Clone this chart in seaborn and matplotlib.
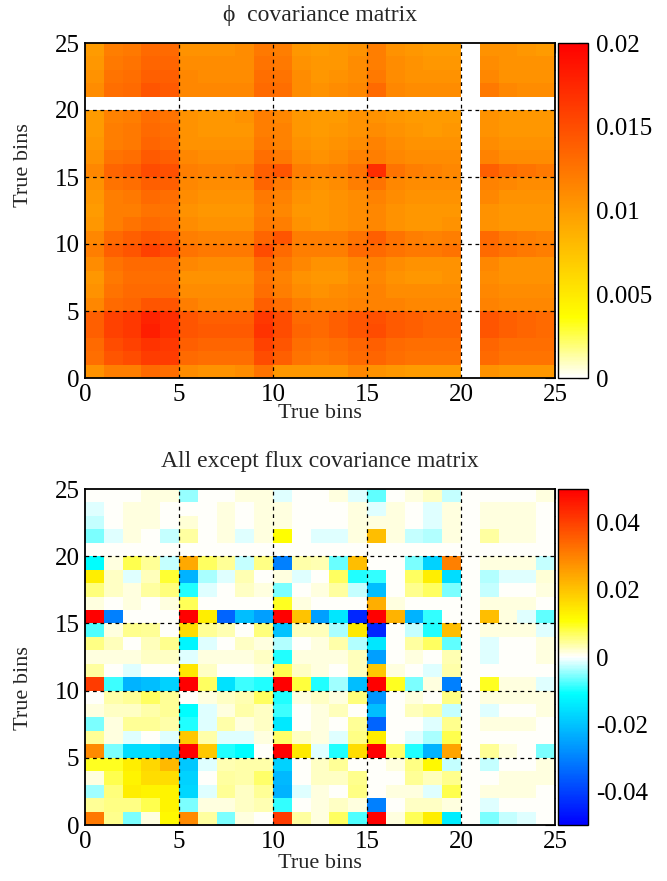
import numpy as np
import pandas as pd
import matplotlib
matplotlib.use("Agg")
import matplotlib.pyplot as plt
import seaborn as sns
from matplotlib.colors import LinearSegmentedColormap

sns.set_style("white")
plt.rcParams['font.family'] = ['Liberation Serif', 'DejaVu Serif']

bins = list(range(25))
tick_vals = [0, 5, 10, 15, 20, 25]
tick_labels = ["0", "5", "10", "15", "20", "25"]
grid_lines = [5, 10, 15, 20]

# phi covariance matrix, units of 1e-4 (rows = y bin 0..24, cols = x bin 0..24)
phi_cov_e4 = [
    [106,119,119,132,129,110,106,106,110,126,103,103,103,103,113,106,103,100,100,100,0,106,103,103,103],
    [129,145,151,161,161,132,129,129,129,151,139,126,122,126,132,135,129,126,126,126,0,132,126,126,126],
    [132,151,158,167,164,139,135,135,135,158,145,129,126,129,135,139,132,129,129,129,0,135,129,129,129],
    [139,158,164,180,171,145,142,142,142,167,151,135,132,139,145,151,142,139,135,135,0,145,139,135,132],
    [139,158,164,177,171,145,139,139,139,164,151,132,132,139,145,148,142,139,135,135,0,145,139,135,132],
    [113,132,135,145,145,119,113,113,113,139,129,119,113,113,116,116,116,113,113,113,0,116,113,113,113],
    [106,126,132,132,132,110,110,110,110,129,119,110,106,110,113,116,110,110,110,110,0,113,110,110,110],
    [103,122,129,129,129,106,106,106,106,126,116,106,103,103,110,113,106,103,103,106,0,110,106,106,106],
    [110,126,132,132,132,113,110,110,110,132,122,113,106,106,113,116,110,106,106,106,0,113,106,106,106],
    [119,139,145,158,151,126,122,122,122,151,132,119,119,119,132,132,126,122,122,126,0,132,126,122,119],
    [113,132,139,145,142,119,116,116,116,135,145,119,119,119,126,139,126,119,116,119,0,132,122,119,116],
    [103,119,126,132,129,110,106,106,106,122,119,106,103,106,110,113,106,103,103,106,0,106,103,103,103],
    [100,119,119,126,126,106,103,103,103,119,113,103,103,106,110,113,106,103,103,103,0,106,103,103,103],
    [103,119,122,132,129,110,106,106,106,122,116,106,103,106,110,116,110,106,106,106,0,113,106,106,106],
    [106,126,129,139,139,113,110,110,110,135,122,110,106,110,119,126,113,110,110,110,0,116,113,110,110],
    [113,135,139,151,148,119,116,116,119,139,145,119,116,119,126,171,126,119,116,113,0,139,129,126,122],
    [106,126,129,142,139,113,110,110,110,129,122,110,106,110,116,119,113,110,110,110,0,116,110,110,110],
    [103,119,122,135,132,106,106,106,106,122,116,106,103,106,110,116,110,106,106,106,0,110,106,106,106],
    [100,119,122,132,129,106,103,103,103,119,116,103,100,103,106,110,106,103,100,103,0,106,103,103,103],
    [100,116,119,129,126,106,103,103,106,119,113,103,100,100,106,106,103,100,100,100,0,106,103,103,103],
    [0,0,0,0,0,0,0,0,0,0,0,0,0,0,0,0,0,0,0,0,0,0,0,0,0],
    [110,129,132,145,142,113,113,113,113,132,129,110,106,110,113,132,113,110,110,110,0,122,113,110,110],
    [106,126,129,139,139,113,110,110,110,129,126,110,103,106,110,122,110,106,106,106,0,113,106,106,106],
    [103,122,126,135,135,110,110,110,110,126,122,106,103,103,110,119,110,106,103,103,0,110,106,106,106],
    [100,119,122,132,132,106,106,106,110,122,119,103,100,103,106,119,106,103,100,100,0,106,106,103,100],
]

# all-except-flux covariance matrix, units of 1e-3
other_cov_e3 = [
    [31.6,5.0,-5.5,1.3,11.8,28.6,4.1,-5.5,1.3,0,40.8,4.1,1.3,6.7,-7.5,50,1.3,7.1,13.3,-13.3,0,-5.5,-2.4,-1.3,0],
    [4.5,5.4,5.4,7.5,12.5,-5.5,1.3,1.3,2.4,3.2,-8.8,0,1.3,2.4,1.3,-30.1,0,2.4,2.4,1.3,0,-1.3,0,0,0],
    [-4.1,5.8,13.3,12.5,12.5,-17.1,-1.3,4.5,2.4,4.5,-22.5,-1.3,1.3,0,5.4,0,1.3,1.3,-1.3,7.5,0,1.3,1.3,1.3,0],
    [1.3,7.5,12.5,16.4,16.4,-17.9,0,4.1,3.7,6.3,-21.7,0,2.4,2.4,5.0,0,0,4.5,2.8,5.0,0,0,1.3,1.3,1.3],
    [9.7,9.7,13.3,17.1,21.7,-19.4,-1.3,3.2,3.7,3.7,-17.9,0,2.4,4.5,0,0,1.3,5.4,12.0,-2.4,0,-2.4,0,0,1.3],
    [28.6,-5.5,-16.4,-16.4,-20.2,50,19.4,-9.7,-11,0,50,14.1,-1.3,-9.7,16.4,50,6.3,-9.7,-22.5,24.8,0,4.5,1.3,0,-5.5],
    [4.5,1.3,-1.3,0,-1.3,19.4,3.7,-1.3,-1.3,1.3,6.3,2.4,1.3,-1.3,5.4,13.3,0,-1.3,-3.7,7.5,0,0,0,0,0],
    [-5.5,1.3,4.5,4.5,3.7,-9.7,-1.3,3.7,1.3,2.4,-14.1,0,1.3,0,4.5,-34.7,0,0,-1.3,5.0,0,1.3,1.3,1.3,0],
    [1.3,2.4,2.4,3.7,4.5,-11,-1.3,1.3,3.7,2.4,-8.4,0,1.3,2.8,0,-20.9,0,2.8,4.1,-2.4,0,-1.3,0,0,1.3],
    [0,3.7,4.5,6.7,4.5,0,1.3,2.4,3.2,6.7,-9.7,1.3,2.4,1.3,5.8,-27.1,0,1.3,0,5.4,0,1.3,1.3,1.3,1.3],
    [40.8,-8.4,-22.5,-20.9,-17.9,50,6.7,-15.6,-8.4,-9.7,50,8.4,-9.7,-4.1,-20.9,50,9.7,-5.5,1.3,-30.1,0,9.7,1.3,1.3,-1.3],
    [4.1,0,-1.3,0,0,14.8,2.4,0,0,1.3,7.5,2.4,1.3,0,2.8,19.4,1.3,0,-1.3,3.7,0,0,0,0,0],
    [1.3,1.3,1.3,2.4,2.4,-1.3,1.3,1.3,1.3,2.4,-9.7,1.3,1.3,1.3,2.8,-25.5,0,1.3,0,3.2,0,-1.3,0,0,1.3],
    [5.4,2.8,0,2.8,5.0,-12.5,-1.3,0,2.4,1.3,-3.2,0,1.3,3.7,-3.2,-14.8,0,4.1,6.7,-6.7,0,-1.3,0,0,1.3],
    [-7.5,1.3,5.0,4.5,0,16.4,4.5,3.2,0,5.8,-20.2,2.8,2.8,-3.7,14.1,-43.9,0,-2.4,-9.7,20.9,0,1.3,1.3,1.3,-1.3],
    [50,-30.1,0,0,0,50,13.3,-34.7,-20.9,-25.5,50,20.2,-25.5,-14.8,-43.9,50,22.5,-22.5,-8.8,0,0,20.9,1.3,-1.3,-6.7],
    [1.3,0,1.3,0,1.3,7.1,0,0,0,0,9.7,1.3,0,0,0,23.2,1.3,0,0,0,0,1.3,1.3,1.3,0],
    [5.8,2.4,1.3,4.1,5.8,-9.7,-1.3,0,2.4,1.3,-5.5,0,1.3,4.1,-2.4,-20.9,0,5.0,6.7,-5.5,0,-2.4,0,0,1.3],
    [13.3,2.4,-1.3,2.8,8.8,-22.5,-3.7,-1.3,3.2,0,1.3,-1.3,0,6.7,-9.7,-8.8,0,6.7,13.3,-16.4,0,-3.2,-1.3,-1.3,1.9],
    [-11,1.3,7.5,4.5,-2.4,24.0,6.7,4.5,-2.4,5.4,-30.1,3.7,3.2,-6.3,20.9,0,0,-5.5,-17.9,30.1,0,1.3,1.3,1.3,-2.4],
    [0,0,0,0,0,0,0,0,0,0,0,0,0,0,0,0,0,0,0,0,0,0,0,0,0],
    [-5.5,-1.3,1.3,0,-2.4,4.1,0,1.3,-1.3,1.3,11,0,-1.3,-1.3,1.3,20.9,1.3,-2.4,-3.2,1.3,0,4.1,1.3,1.3,0],
    [-2.4,0,1.3,1.3,0,1.7,0,1.3,0,1.3,1.3,0,0,0,1.3,1.3,1.3,0,-1.3,1.3,0,1.3,1.3,1.3,0],
    [-1.3,0,1.3,1.3,0,0,0,1.3,0,1.3,1.3,0,0,0,1.3,-1.3,1.3,0,-1.3,1.3,0,1.3,1.3,1.3,0],
    [0,0,0,1.3,1.3,-4.5,0,0,1.3,1.3,-1.3,0,0,1.3,-1.3,-6.7,0,1.3,2.4,-2.4,0,0,0,0,1.3],
]

phi_cbar_ticks = [0, 0.005, 0.01, 0.015, 0.02]
phi_cbar_labels = ["0", "0.005", "0.01", "0.015", "0.02"]
oth_cbar_ticks = [-0.04, -0.02, 0, 0.02, 0.04]
oth_cbar_labels = ["-0.04", "-0.02", "0", "0.02", "0.04"]

cmap_phi = LinearSegmentedColormap.from_list(
    "phi", [(0.0, (1, 1, 1)), (0.18, (1, 1, 0)), (1.0, (1, 0, 0))])
cmap_oth = LinearSegmentedColormap.from_list(
    "oth", [(0.0, (0, 0, 1)), (0.39, (0, 1, 1)), (0.5, (1, 1, 1)),
            (0.61, (1, 1, 0)), (1.0, (1, 0, 0))])

W, H = 667, 881
fig = plt.figure(figsize=(W / 100, H / 100), dpi=100)

def fx(px):
    return px / W

def fy(py):
    return 1 - py / H

ax1 = fig.add_axes([fx(85), fy(378), fx(555) - fx(85), fy(43) - fy(378)])
cax1 = fig.add_axes([fx(558), fy(378), fx(588) - fx(558), fy(43) - fy(378)])
ax2 = fig.add_axes([fx(85), fy(825), fx(555) - fx(85), fy(489) - fy(825)])
cax2 = fig.add_axes([fx(558), fy(825), fx(588) - fx(558), fy(489) - fy(825)])

df1 = pd.DataFrame(np.array(phi_cov_e4, dtype=float) * 1e-4, index=bins, columns=bins)
df2 = pd.DataFrame(np.array(other_cov_e3, dtype=float) * 1e-3, index=bins, columns=bins)

sns.heatmap(df1, ax=ax1, cmap=cmap_phi, vmin=0, vmax=0.02, cbar_ax=cax1,
            xticklabels=False, yticklabels=False)
sns.heatmap(df2, ax=ax2, cmap=cmap_oth, vmin=-0.05, vmax=0.05, cbar_ax=cax2,
            xticklabels=False, yticklabels=False)

for ax, cax, cticks, clabels in [(ax1, cax1, phi_cbar_ticks, phi_cbar_labels),
                                  (ax2, cax2, oth_cbar_ticks, oth_cbar_labels)]:
    ax.set_xlim(0, 25)
    ax.set_ylim(0, 25)
    ax.set_xticks(tick_vals)
    ax.set_xticklabels(tick_labels)
    ax.set_yticks(tick_vals)
    ax.set_yticklabels(tick_labels)
    ax.set_xticks(range(26), minor=True)
    ax.set_yticks(range(26), minor=True)
    ax.tick_params(which='both', direction='in', top=True, right=True,
                   colors='black', width=0.8, labelsize=18)
    ax.tick_params(which='major', length=7, pad=4)
    ax.tick_params(which='minor', length=3.5)
    for s in ax.spines.values():
        s.set_visible(True)
        s.set_linewidth(1.3)
        s.set_color('black')
    for v in grid_lines:
        ax.axhline(v, color='black', lw=0.9, ls=(0, (3, 3)), zorder=5)
        ax.axvline(v, color='black', lw=0.9, ls=(0, (3, 3)), zorder=5)
    ax.set_xlabel("")
    ax.set_ylabel("")
    cb = ax.collections[0].colorbar
    cb.outline.set_linewidth(1.0)
    cb.outline.set_edgecolor('black')
    cb.set_ticks(cticks)
    cb.set_ticklabels(clabels)
    cax.tick_params(direction='in', length=7, width=0.8, labelsize=18,
                    pad=6, colors='black')

fig.text(fx(320), fy(15), "ϕ  covariance matrix", ha='center', va='center', fontsize=17)
fig.text(fx(320), fy(461), "All except flux covariance matrix", ha='center', va='center', fontsize=17)
fig.text(fx(320), fy(413), "True bins", ha='center', va='center', fontsize=16)
fig.text(fx(320), fy(863), "True bins", ha='center', va='center', fontsize=16)
fig.text(fx(24), fy(165), "True bins", ha='center', va='center', fontsize=16, rotation=90)
fig.text(fx(24), fy(688), "True bins", ha='center', va='center', fontsize=16, rotation=90)

fig.savefig("out.png", dpi=100)
